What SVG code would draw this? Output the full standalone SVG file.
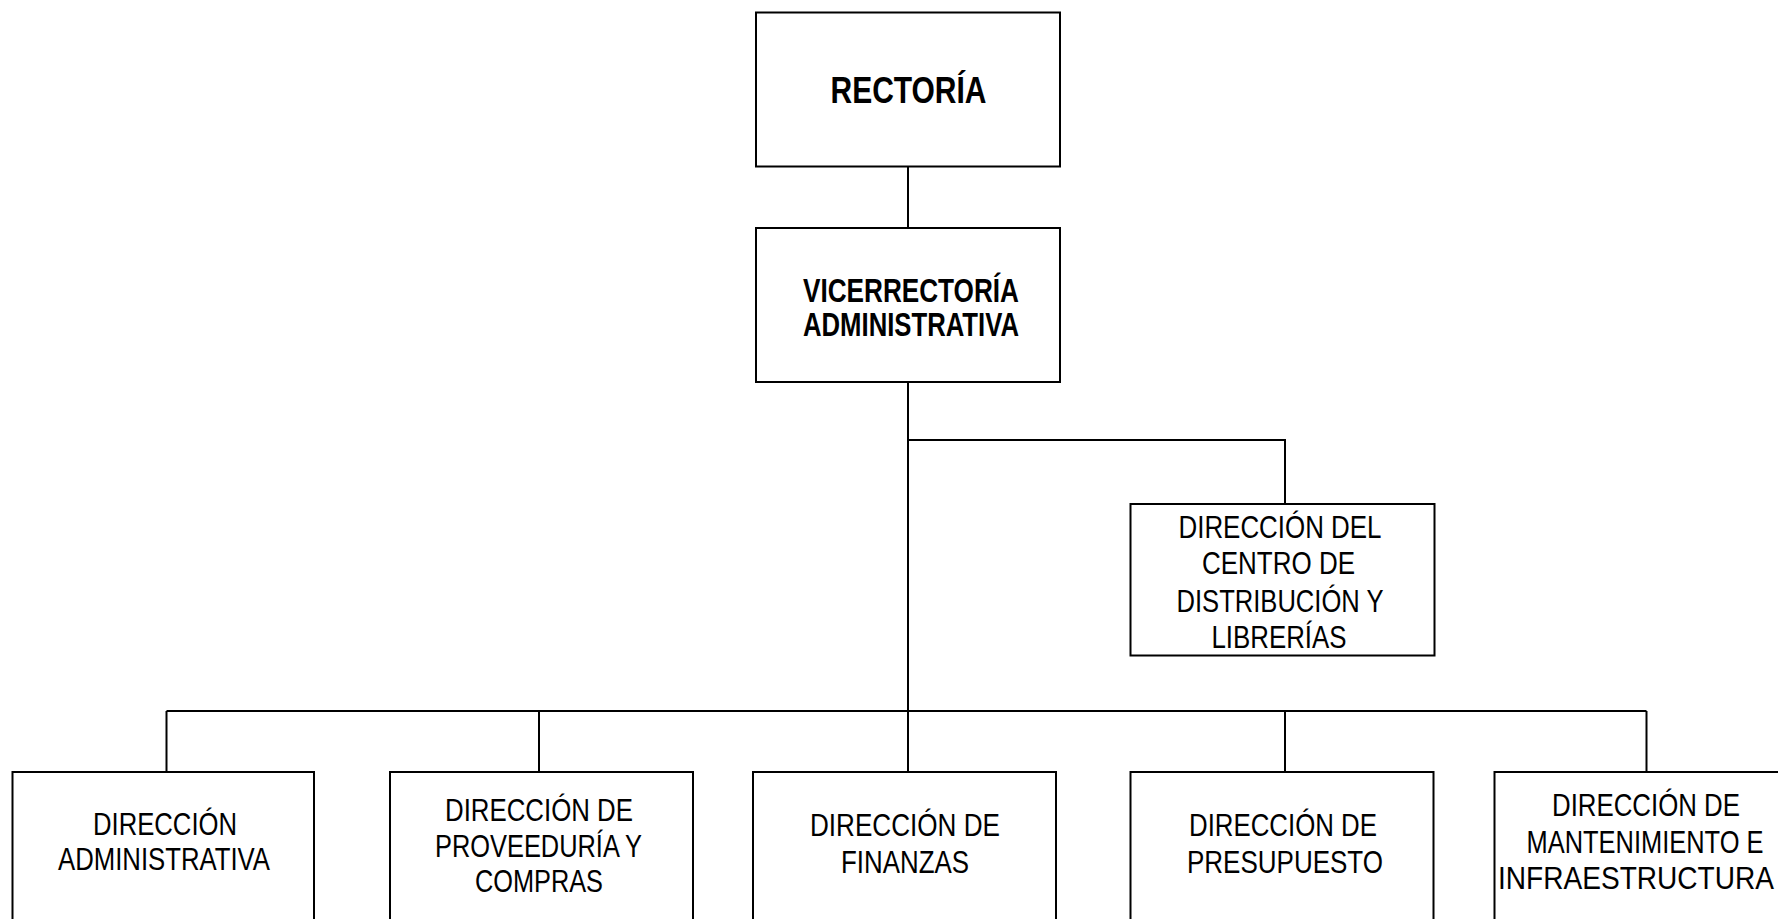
<svg xmlns="http://www.w3.org/2000/svg" width="1778" height="919" viewBox="0 0 1778 919">
<style>
.box{fill:#fff;stroke:#000;stroke-width:2}
.ln{stroke:#000;stroke-width:2;fill:none}
.b{font-family:"Liberation Sans",Arial,sans-serif;font-weight:bold;fill:#000;text-anchor:middle}
.r{font-family:"Liberation Sans",Arial,sans-serif;font-size:31px;fill:#000;text-anchor:middle}
</style>
<rect width="1778" height="919" fill="#fff"/>
<g id="connectors">
<line class="ln" x1="908" y1="166" x2="908" y2="228"/>
<line class="ln" x1="908" y1="382" x2="908" y2="772"/>
<polyline class="ln" points="908,440 1285,440 1285,504"/>
<line class="ln" x1="166.5" y1="711" x2="1646.5" y2="711"/>
<line class="ln" x1="166.5" y1="711" x2="166.5" y2="772"/>
<line class="ln" x1="539" y1="711" x2="539" y2="772"/>
<line class="ln" x1="1285" y1="711" x2="1285" y2="772"/>
<line class="ln" x1="1646.5" y1="711" x2="1646.5" y2="772"/>
</g>
<g id="rectoria">
<rect class="box" x="756" y="12.5" width="304" height="154"/>
<text class="b" x="908.5" y="103" font-size="37" textLength="156" lengthAdjust="spacingAndGlyphs">RECTORÍA</text>
</g>
<g id="vicerrectoria">
<rect class="box" x="756" y="228" width="304" height="154"/>
<text class="b" x="911" y="301.5" font-size="34" textLength="216" lengthAdjust="spacingAndGlyphs">VICERRECTORÍA</text>
<text class="b" x="911" y="336" font-size="34" textLength="216" lengthAdjust="spacingAndGlyphs">ADMINISTRATIVA</text>
</g>
<g id="centro-distribucion">
<rect class="box" x="1130.5" y="504" width="304" height="151.5"/>
<text class="r" x="1280" y="537.5" textLength="203" lengthAdjust="spacingAndGlyphs">DIRECCIÓN DEL</text>
<text class="r" x="1278.5" y="574" textLength="153" lengthAdjust="spacingAndGlyphs">CENTRO DE</text>
<text class="r" x="1280" y="611.5" textLength="207" lengthAdjust="spacingAndGlyphs">DISTRIBUCIÓN Y</text>
<text class="r" x="1279" y="647.5" textLength="135" lengthAdjust="spacingAndGlyphs">LIBRERÍAS</text>
</g>
<g id="administrativa">
<rect class="box" x="12.5" y="772" width="301.5" height="170"/>
<text class="r" x="165" y="834.5" textLength="144" lengthAdjust="spacingAndGlyphs">DIRECCIÓN</text>
<text class="r" x="164" y="869.5" textLength="212" lengthAdjust="spacingAndGlyphs">ADMINISTRATIVA</text>
</g>
<g id="proveeduria">
<rect class="box" x="390" y="772" width="303" height="170"/>
<text class="r" x="539" y="820.5" textLength="188" lengthAdjust="spacingAndGlyphs">DIRECCIÓN DE</text>
<text class="r" x="538.5" y="856.5" textLength="207" lengthAdjust="spacingAndGlyphs">PROVEEDURÍA Y</text>
<text class="r" x="539" y="891.5" textLength="128" lengthAdjust="spacingAndGlyphs">COMPRAS</text>
</g>
<g id="finanzas">
<rect class="box" x="753" y="772" width="303" height="170"/>
<text class="r" x="905" y="835.5" textLength="190" lengthAdjust="spacingAndGlyphs">DIRECCIÓN DE</text>
<text class="r" x="905" y="872.5" textLength="128" lengthAdjust="spacingAndGlyphs">FINANZAS</text>
</g>
<g id="presupuesto">
<rect class="box" x="1130.5" y="772" width="303" height="170"/>
<text class="r" x="1283" y="835.5" textLength="188" lengthAdjust="spacingAndGlyphs">DIRECCIÓN DE</text>
<text class="r" x="1285" y="872.5" textLength="196" lengthAdjust="spacingAndGlyphs">PRESUPUESTO</text>
</g>
<g id="mantenimiento">
<rect class="box" x="1494.5" y="772" width="303" height="170"/>
<text class="r" x="1646" y="815.5" textLength="188" lengthAdjust="spacingAndGlyphs">DIRECCIÓN DE</text>
<text class="r" x="1645" y="852.5" textLength="237" lengthAdjust="spacingAndGlyphs">MANTENIMIENTO E</text>
<text class="r" x="1636" y="888.5" textLength="276" lengthAdjust="spacingAndGlyphs">INFRAESTRUCTURA</text>
</g>
</svg>
